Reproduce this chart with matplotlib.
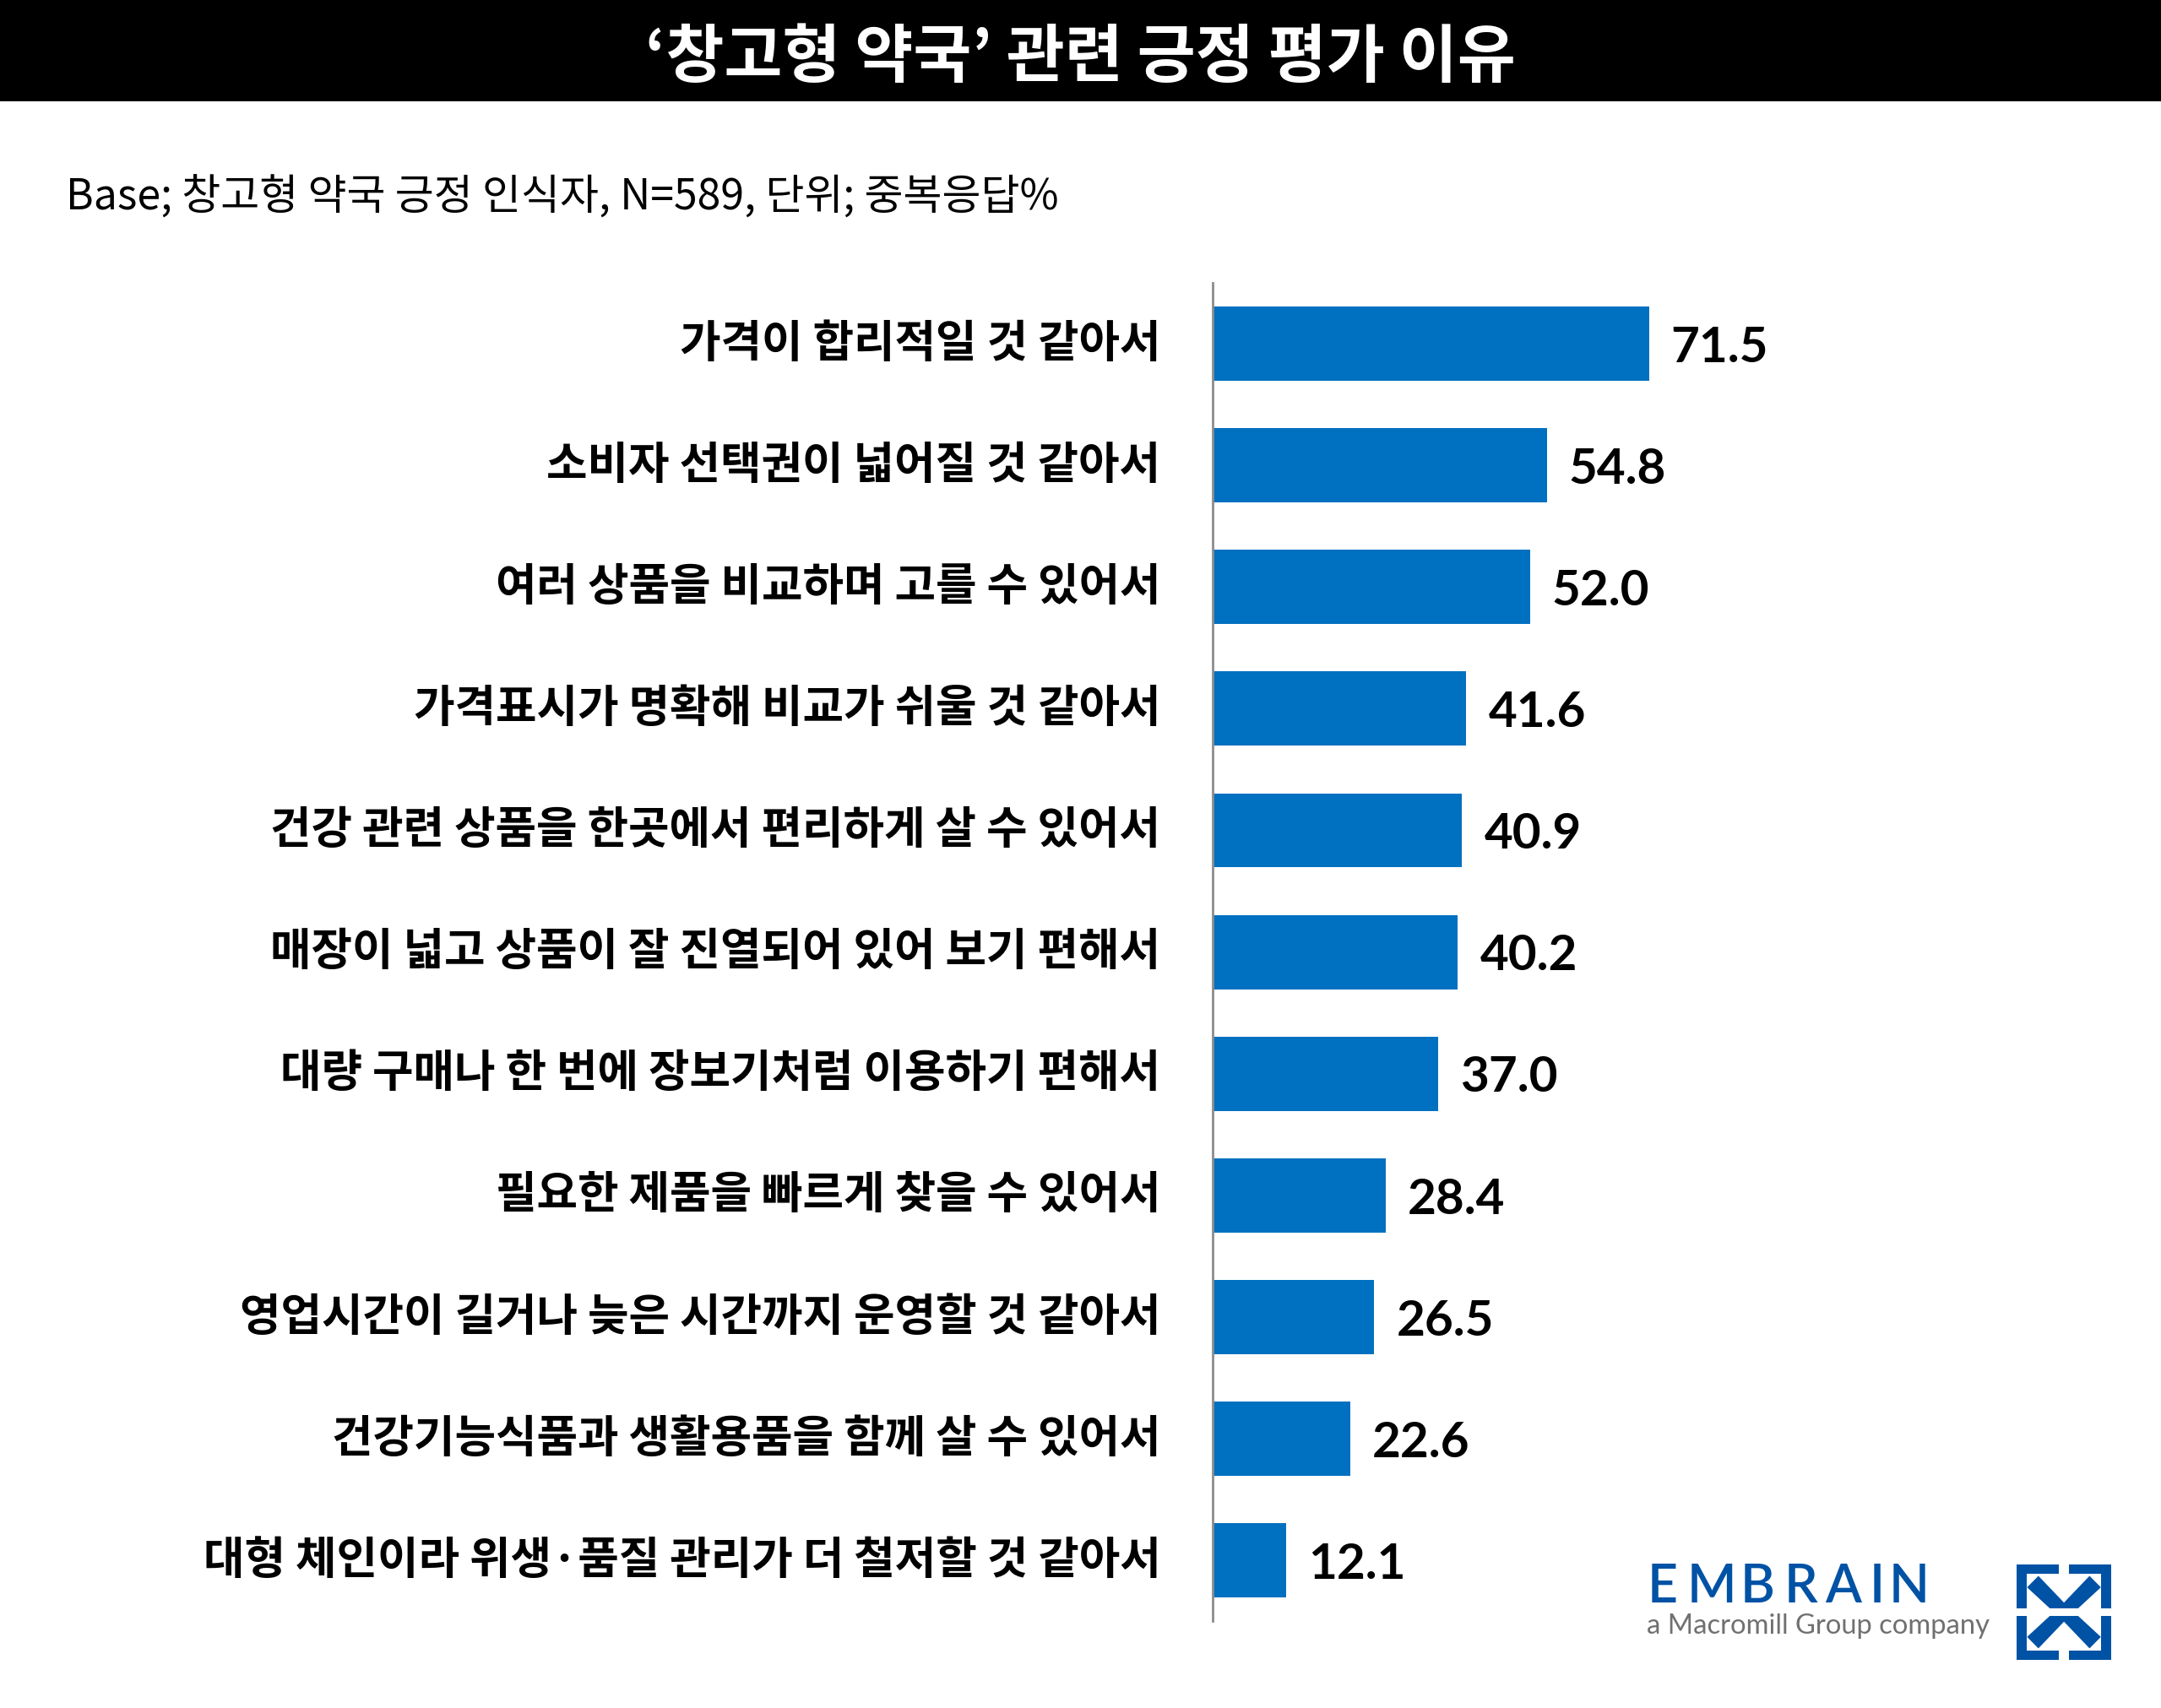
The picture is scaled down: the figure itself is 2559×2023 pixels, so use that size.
import matplotlib
matplotlib.use("Agg")
import matplotlib.pyplot as plt
from matplotlib.patches import Polygon, Rectangle
from matplotlib.transforms import ScaledTranslation

plt.rcParams['font.family'] = ['Noto Sans CJK KR', 'DejaVu Sans']

# data
reasons = [
    "가격이 합리적일 것 같아서",
    "소비자 선택권이 넓어질 것 같아서",
    "여러 상품을 비교하며 고를 수 있어서",
    "가격표시가 명확해 비교가 쉬울 것 같아서",
    "건강 관련 상품을 한곳에서 편리하게 살 수 있어서",
    "매장이 넓고 상품이 잘 진열되어 있어 보기 편해서",
    "대량 구매나 한 번에 장보기처럼 이용하기 편해서",
    "필요한 제품을 빠르게 찾을 수 있어서",
    "영업시간이 길거나 늦은 시간까지 운영할 것 같아서",
    "건강기능식품과 생활용품을 함께 살 수 있어서",
    "대형 체인이라 위생·품질 관리가 더 철저할 것 같아서",
]
shares = [71.5, 54.8, 52.0, 41.6, 40.9, 40.2, 37.0, 28.4, 26.5, 22.6, 12.1]

title = "‘창고형 약국’ 관련 긍정 평가 이유"
subtitle = "Base; 창고형 약국 긍정 인식자, N=589, 단위; 중복응답%"

BAR = "#0070C0"
LOGO = "#0052A5"

fig = plt.figure(figsize=(25.59, 20.24), dpi=100)

# black title band
fig.patches.append(Rectangle((0, 0.940), 1, 0.060, transform=fig.transFigure,
                             facecolor="black", edgecolor="none", zorder=0))
fig.text(0.5, 0.966, title, ha="center", va="center", color="white",
         fontsize=54, fontweight="bold")
fig.text(0.0305, 0.884, subtitle, ha="left", va="center", color="black",
         fontsize=36)

# bars
ax = fig.add_axes([0.561, 0.0509, 0.2826, 0.783])
ypos = list(range(len(reasons)))
ax.barh(ypos, shares, height=0.61, color=BAR, zorder=2)
ax.set_xlim(0, 100)
ax.set_ylim(len(reasons) - 0.5, -0.5)
for side in ["top", "right", "bottom"]:
    ax.spines[side].set_visible(False)
ax.spines["left"].set_color("#8c8c8c")
ax.spines["left"].set_linewidth(2)
ax.set_xticks([])
ax.set_yticks(ypos)
ax.set_yticklabels(reasons, fontsize=38, fontweight="bold")
ax.tick_params(axis="y", length=0, pad=44)
# nudge the category labels up a little, as in the original
lift = ScaledTranslation(0, 4.5 / 72, fig.dpi_scale_trans)
for lbl in ax.get_yticklabels():
    lbl.set_transform(lbl.get_transform() + lift)

for y, v in zip(ypos, shares):
    ax.text(v + 3.6, y + 0.03, f"{v:.1f}", ha="left", va="center",
            fontsize=42, fontweight="bold", family=["Lato", "DejaVu Sans"])

# logo wordmark, letters spread out like the original
word = "EMBRAIN"
letter_x = [0.7622, 0.7808, 0.8052, 0.8255, 0.8445, 0.8650, 0.8740]
for ch, x in zip(word, letter_x):
    fig.text(x, 0.0623, ch, ha="left", va="baseline", color=LOGO,
             fontsize=45, fontweight="semibold", family=["Lato", "DejaVu Sans"])
fig.text(0.762, 0.044, "a Macromill Group company", ha="left", va="baseline",
         color="#707070", fontsize=23.6, family=["Lato", "DejaVu Sans"])

# logo icon
lx = fig.add_axes([0.9332, 0.0282, 0.0438, 0.0558])
lx.set_xlim(0, 1)
lx.set_ylim(1, 0)
lx.axis("off")
shapes = [
    # corner brackets
    [(0, 0), (0.45, 0), (0.45, 0.10), (0.11, 0.10), (0.11, 0.46), (0, 0.46)],
    [(1, 0), (0.55, 0), (0.55, 0.10), (0.89, 0.10), (0.89, 0.46), (1, 0.46)],
    [(0, 1), (0.45, 1), (0.45, 0.90), (0.11, 0.90), (0.11, 0.54), (0, 0.54)],
    [(1, 1), (0.55, 1), (0.55, 0.90), (0.89, 0.90), (0.89, 0.54), (1, 0.54)],
    # chevrons
    [(0.23, 0.12), (0.50, 0.40), (0.77, 0.12), (0.89, 0.24),
     (0.65, 0.46), (0.35, 0.46), (0.11, 0.24)],
    [(0.23, 0.88), (0.50, 0.60), (0.77, 0.88), (0.89, 0.76),
     (0.65, 0.54), (0.35, 0.54), (0.11, 0.76)],
]
for pts in shapes:
    lx.add_patch(Polygon(pts, closed=True, facecolor=LOGO, edgecolor="none"))

fig.savefig("out.png", dpi=100, facecolor="white")
